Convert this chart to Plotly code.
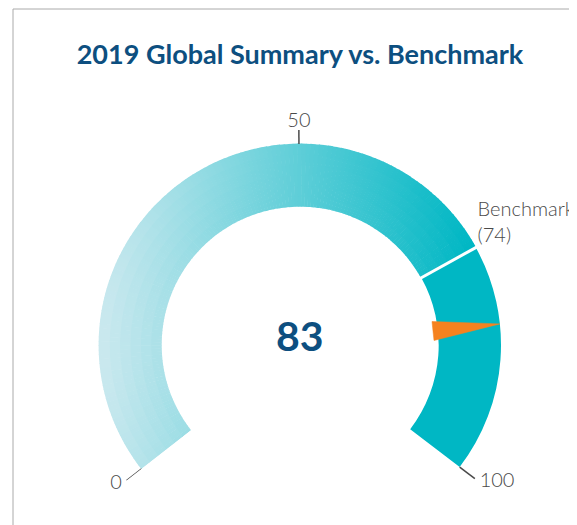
import numpy as np
import plotly.graph_objects as go

# ---- data ----
gauge_min = 0
gauge_max = 100
score = 83
benchmark = 74
tick_values = [0, 50, 100]
tick_labels = ["0", "50", "100"]
benchmark_label = "Benchmark<br>(74)"
title_text = "2019 Global Summary vs. Benchmark"

# ---- styling / geometry ----
SPAN = 255.4          # degrees covered by the gauge
ROT = 218             # screen angle of the gauge minimum
R_IN, R_OUT = 0.69, 1.0
R_MAX = 1.16
C_LIGHT, C_TEAL = "#cce9ef", "#00b7c4"
NAVY = "#0d4f80"
GREY = "#4a4a4a"
OFF = 8               # page body margin compensation

def th(v):
    return (np.asarray(v, dtype=float) - gauge_min) / (gauge_max - gauge_min) * SPAN

fig = go.Figure()

# gradient part of ring (0 -> benchmark), coloured by horizontal position
n_ang = 150
n_rad = 6
edges = np.linspace(gauge_min, benchmark, n_ang + 1)
centers = (edges[:-1] + edges[1:]) / 2
step = th(edges[1]) - th(edges[0])
rr_edges = np.linspace(R_IN, R_OUT, n_rad + 1)
thetas, bases, lens, cols = [], [], [], []
for i in range(n_rad):
    r0, r1 = rr_edges[i], rr_edges[i + 1]
    rm = (r0 + r1) / 2
    for c in centers:
        t = th(c)
        ang = np.deg2rad(ROT - t)
        thetas.append(t)
        bases.append(r0 - 0.002)
        lens.append(r1 - r0 + 0.004)
        cols.append(rm * np.cos(ang))
fig.add_trace(go.Barpolar(
    theta=thetas, base=bases, r=lens, width=[step * 1.15] * len(thetas),
    marker=dict(color=cols, colorscale=[[0, C_LIGHT], [1, C_TEAL]], cmin=-1.0, cmax=0.85,
                line=dict(width=0)),
    hoverinfo="skip", showlegend=False))

# solid part (benchmark -> max)
fig.add_trace(go.Barpolar(
    theta=[th((benchmark + gauge_max) / 2)], base=[R_IN], r=[R_OUT - R_IN],
    width=[th(gauge_max) - th(benchmark)],
    marker=dict(color=C_TEAL, line=dict(width=0)),
    hoverinfo="skip", showlegend=False))

# benchmark divider
fig.add_trace(go.Scatterpolar(
    r=[R_IN - 0.01, R_OUT + 0.01], theta=[th(benchmark)] * 2, mode="lines",
    line=dict(color="white", width=3), hoverinfo="skip", showlegend=False,
    cliponaxis=False))

# needle
fig.add_trace(go.Scatterpolar(
    r=[0.667, R_OUT, 0.667, 0.667],
    theta=[th(score - 1.6), th(score), th(score + 1.6), th(score - 1.6)],
    mode="lines", fill="toself", fillcolor="#f5821f",
    line=dict(color="#f5821f", width=0.5), hoverinfo="skip", showlegend=False,
    cliponaxis=False))

# ticks
tick_len = [1.095, 1.07, 1.095]
for v, tl in zip(tick_values, tick_len):
    fig.add_trace(go.Scatterpolar(
        r=[R_OUT, tl], theta=[th(v)] * 2, mode="lines",
        line=dict(color=GREY, width=1.5), hoverinfo="skip", showlegend=False,
        cliponaxis=False))

positions = ["middle left", "top center", "middle right"]
label_r = [1.125, 1.06, 1.125]
fig.add_trace(go.Scatterpolar(
    r=label_r, theta=th(tick_values), mode="text",
    text=tick_labels, textposition=positions,
    textfont=dict(family="Lato", size=20, color=GREY, weight=300),
    hoverinfo="skip", showlegend=False, cliponaxis=False))

fig.add_trace(go.Scatterpolar(
    r=[R_OUT + 0.01], theta=[th(benchmark)], mode="text",
    text=[benchmark_label], textposition="top right",
    textfont=dict(family="Lato", size=20, color=GREY, weight=300),
    hoverinfo="skip", showlegend=False, cliponaxis=False))

W, H = 577 - OFF, 525 - OFF
cx, cy = 300 - OFF, 345 - OFF
Rpx = 201 * R_MAX
fig.update_layout(
    width=W, height=H, margin=dict(l=0, r=0, t=0, b=0),
    paper_bgcolor="white", plot_bgcolor="white",
    polar=dict(
        domain=dict(x=[(cx - Rpx) / W, (cx + Rpx) / W],
                    y=[1 - (cy + Rpx * np.sin(np.deg2rad(ROT - 180))) / H, 1 - (cy - Rpx) / H]),
        sector=[180 - ROT, ROT],
        bgcolor="white",
        hole=0,
        radialaxis=dict(range=[0, R_MAX], visible=False),
        angularaxis=dict(visible=False, rotation=ROT, direction="clockwise",
                         thetaunit="degrees"),
    ),
    title=dict(text=title_text, x=(300 - OFF) / W, xanchor="center",
               y=1 - (55 - OFF) / H, yanchor="middle",
               font=dict(family="Lato", size=27, color=NAVY, weight="bold")),
    annotations=[dict(text=str(score), x=cx / W, y=1 - (335 - OFF) / H, xref="paper", yref="paper",
                      showarrow=False, xanchor="center", yanchor="middle",
                      font=dict(family="Lato", size=41, color=NAVY, weight="bold"))],
    shapes=[
        dict(type="line", xref="paper", yref="paper", x0=(13 - OFF) / W, x1=1,
             y0=1 - (9 - OFF) / H, y1=1 - (9 - OFF) / H,
             line=dict(color="#aaaaaa", width=1)),
        dict(type="line", xref="paper", yref="paper", x0=(13 - OFF) / W, x1=(13 - OFF) / W,
             y0=0, y1=1 - (9 - OFF) / H,
             line=dict(color="#aaaaaa", width=1)),
    ],
)

fig.write_html("out.html")
